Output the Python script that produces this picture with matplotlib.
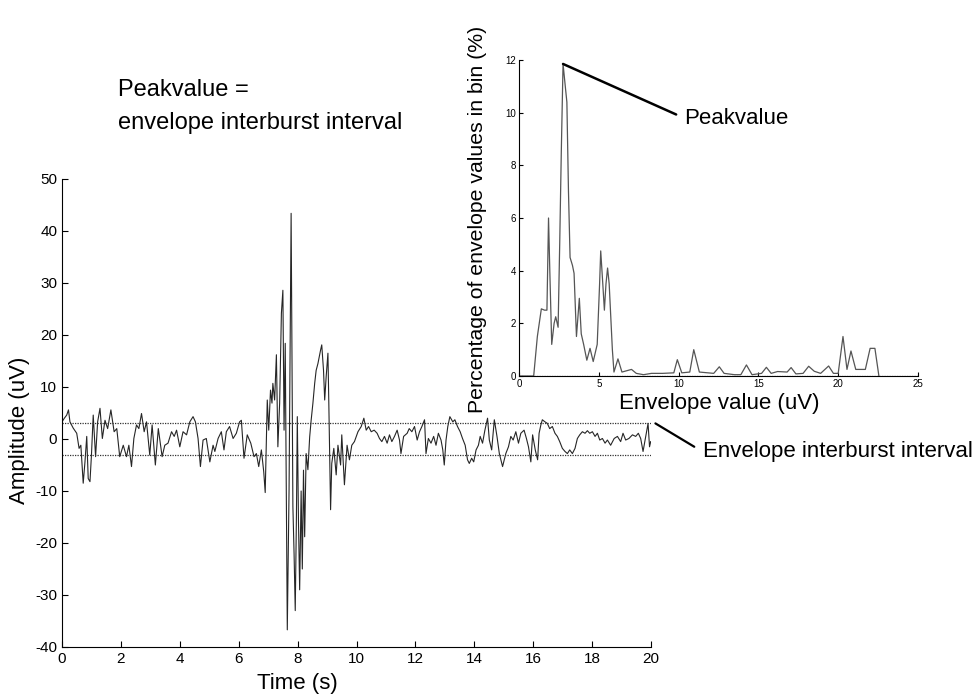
import matplotlib.pyplot as plt

plt.rcParams['font.family'] = ['Liberation Sans', 'DejaVu Sans']
plt.rcParams['axes.unicode_minus'] = False

# raw trace (s, uV)
time_s = [
    0.0, 0.08, 0.16, 0.22, 0.27, 0.38, 0.5, 0.58, 0.64, 0.72, 0.78, 0.84, 0.89, 0.95, 1.0,
    1.06, 1.14, 1.21, 1.29, 1.37, 1.46, 1.55, 1.66, 1.77, 1.86, 1.96, 2.08, 2.19, 2.27, 2.36,
    2.44, 2.53, 2.61, 2.7, 2.79, 2.87, 2.98, 3.06, 3.17, 3.27, 3.4, 3.49, 3.6, 3.72, 3.81,
    3.89, 4.0, 4.11, 4.23, 4.34, 4.45, 4.53, 4.62, 4.7, 4.79, 4.9, 5.02, 5.13,
    5.19, 5.3, 5.41, 5.5, 5.58, 5.69, 5.81, 5.92, 6.03, 6.09, 6.18, 6.29, 6.41, 6.52, 6.6,
    6.68, 6.77, 6.85, 6.9,
    6.97, 7.02, 7.08, 7.13, 7.16, 7.22, 7.28, 7.33, 7.39, 7.45, 7.5, 7.54, 7.58, 7.65, 7.71,
    7.78, 7.84, 7.88, 7.92, 7.96, 7.99, 8.03, 8.07, 8.12, 8.16, 8.2, 8.24, 8.29, 8.35, 8.41,
    8.46, 8.52, 8.58, 8.63, 8.69, 8.78, 8.82, 8.88, 8.92, 8.97, 9.03, 9.06, 9.12, 9.16,
    9.23, 9.31, 9.37, 9.46, 9.5, 9.59, 9.68, 9.76, 9.84, 9.93,
    10.05, 10.16, 10.25, 10.33, 10.41, 10.5, 10.6, 10.7, 10.78, 10.86, 10.95, 11.04, 11.12,
    11.2, 11.29, 11.38, 11.46, 11.51, 11.6, 11.72, 11.79, 11.88, 11.97, 12.06, 12.14, 12.22,
    12.31, 12.36, 12.44, 12.53, 12.62, 12.7, 12.78, 12.87, 12.93, 12.98, 13.04, 13.1, 13.17,
    13.27, 13.34, 13.43, 13.52, 13.6, 13.69, 13.77, 13.83, 13.91, 13.98, 14.06, 14.14, 14.2,
    14.28, 14.36, 14.45, 14.51, 14.59, 14.68, 14.77, 14.85, 14.96, 15.07, 15.16,
    15.24, 15.32, 15.41, 15.5, 15.58, 15.69, 15.77, 15.84, 15.92, 15.98, 16.07, 16.15, 16.2,
    16.26, 16.31, 16.4, 16.48, 16.56, 16.65, 16.74, 16.82, 16.9, 16.99, 17.08, 17.16, 17.24,
    17.33, 17.42, 17.5, 17.58, 17.67, 17.76, 17.84, 17.92, 18.01, 18.1, 18.18, 18.26, 18.35,
    18.44, 18.52, 18.63, 18.75, 18.86, 18.97, 19.05, 19.14, 19.25, 19.37, 19.48, 19.57, 19.65,
    19.73, 19.82, 19.9, 19.95, 19.99,
]
amplitude_uv = [
    3.3, 4.0, 4.6, 5.6, 3.3, 2.1, 1.1, -1.8, -1.2, -8.5, -4.4, 0.5, -7.6, -8.2, -3.1,
    4.6, -3.4, 3.3, 5.9, 0.1, 3.6, 2.0, 5.6, 1.4, 2.0, -3.4, -1.2, -3.4, -1.2, -5.3,
    0.1, 2.7, 2.0, 4.9, 1.4, 3.3, -3.1, 2.7, -5.0, 2.0, -3.4, -1.2, -0.8, 1.4, 0.5,
    1.7, -1.5, 1.4, 0.8, 3.3, 4.3, 3.3, 0.1, -5.3, -0.2, 0.1, -4.4, -1.2,
    -2.4, 0.1, 1.4, -2.1, 1.4, 2.4, 0.1, 1.1, 3.3, 3.6, -3.7, 0.8, -0.8, -3.4, -2.8,
    -5.3, -2.1, -6.3, -10.3,
    7.5, 1.7, 9.4, 6.9, 10.7, 7.5, 16.2, -1.5, 6.9, 24.2, 28.6, 1.7, 18.4, -36.7, -9.8,
    43.4, -13.0, -22.0, -33.0, -15.0, 4.3, -16.0, -29.0, -10.0, -25.0, -6.0, -18.8, -2.8, -5.9, 0.4,
    3.6, 6.9, 10.7, 13.2, 14.5, 17.1, 18.1, 13.2, 7.5, 12.0, 16.5, 6.9, -13.6, -4.7,
    -1.8, -6.9, -1.2, -5.0, 0.8, -8.8, -1.2, -4.0, -1.2, -0.5,
    1.4, 2.4, 4.0, 1.7, 2.4, 1.4, 1.7, 1.1, 0.1, -0.5, 0.5, -0.8, 0.8,
    -0.5, 0.5, 1.7, -0.2, -2.8, 0.5, 1.1, 2.0, 1.4, 2.4, -0.2, 1.4, 2.4,
    3.7, -2.8, 0.1, -0.8, 0.5, -1.2, 1.1, -0.2, -2.1, -5.0, -0.2, 2.4, 4.3,
    3.3, 3.7, 2.4, 1.4, 0.1, -1.2, -4.0, -4.7, -3.7, -4.4, -2.1, -1.2, 0.5,
    -0.8, 1.7, 4.0, -0.2, -2.1, 3.7, 0.5, -2.8, -5.3, -2.8, -1.5,
    0.5, -0.2, 1.4, -0.8, 1.1, 1.7, 0.1, -1.5, -4.4, 0.8, -2.1, -4.0, 1.1,
    2.7, 3.7, 3.3, 3.0, 2.0, 2.4, 1.1, 0.5, -0.5, -1.8, -2.4, -2.8, -2.1,
    -2.8, -1.8, 0.1, 0.8, 1.4, 1.1, 1.6, 1.1, 1.4, 0.5, 1.1, -0.2, 0.1,
    -0.8, -0.2, -1.2, 0.1, 0.5, -0.5, 1.1, -0.2, 0.1, 0.8, 0.5, 1.1, 0.1,
    -2.4, 0.5, 3.0, -1.5, -0.5,
]
threshold_uv = 3.0

# histogram of envelope values (inset)
env_value = [
    0.0, 0.92, 1.15, 1.4, 1.6, 1.75, 1.85, 1.93, 2.05, 2.2, 2.3, 2.45, 2.55, 2.65, 2.76,
    2.9, 3.0, 3.1, 3.2, 3.35, 3.45, 3.6, 3.78, 3.9, 4.05, 4.25, 4.45, 4.65, 4.9, 5.05,
    5.12, 5.25, 5.35, 5.45, 5.55, 5.65, 5.85, 5.95, 6.2, 6.45, 6.75, 7.05, 7.35, 7.8, 8.3,
    9.0, 9.7, 9.92, 10.2, 10.7, 10.95, 11.3, 12.2, 12.55, 12.85, 13.5, 13.9, 14.25, 14.6,
    15.2, 15.5, 15.8, 16.2, 16.8, 17.05, 17.35, 17.8, 18.15, 18.5, 18.9, 19.4, 19.7, 20.0,
    20.3, 20.55, 20.8, 21.1, 21.7, 22.0, 22.3, 22.55,
]
env_pct = [
    0.0, 0.0, 1.5, 2.55, 2.5, 2.5, 6.0, 4.0, 1.2, 2.0, 2.25, 1.85, 5.0, 8.5, 11.85,
    11.0, 10.4, 7.0, 4.5, 4.2, 3.9, 1.5, 2.95, 1.6, 1.2, 0.6, 1.05, 0.55, 1.2, 3.5,
    4.75, 3.5, 2.5, 3.5, 4.1, 3.5, 1.0, 0.15, 0.65, 0.15, 0.2, 0.25, 0.1, 0.05, 0.1,
    0.1, 0.12, 0.62, 0.12, 0.15, 1.0, 0.15, 0.1, 0.35, 0.1, 0.05, 0.05, 0.42, 0.05,
    0.1, 0.33, 0.1, 0.17, 0.15, 0.32, 0.08, 0.1, 0.37, 0.18, 0.1, 0.38, 0.1, 0.1,
    1.5, 0.25, 0.95, 0.25, 0.25, 1.05, 1.05, 0.0,
]

fig = plt.figure(figsize=(9.8, 7), dpi=100)

# main trace
ax = fig.add_axes([62 / 980, 1 - 647 / 700, 589 / 980, 468 / 700])
ax.plot(time_s, amplitude_uv, color='#262626', lw=0.8)
ax.axhline(threshold_uv, color='#333333', lw=0.9, ls=(0, (1, 1)))
ax.axhline(-threshold_uv, color='#333333', lw=0.9, ls=(0, (1, 1)))
ax.set_xlim(0, 20)
ax.set_ylim(-40, 50)
ax.set_xticks(range(0, 21, 2))
ax.set_yticks(range(-40, 51, 10))
ax.spines['top'].set_visible(False)
ax.spines['right'].set_visible(False)
ax.tick_params(direction='in', length=4, labelsize=11)
ax.set_xlabel('Time (s)', fontsize=16)
ax.xaxis.set_label_coords(0.4, -0.055)
fig.text(20 / 980, 1 - 430 / 700, 'Amplitude (uV)', rotation=90,
         ha='center', va='center', fontsize=16)

ax.annotate('Envelope interburst interval', xy=(20.15, threshold_uv), xycoords='data',
            xytext=(703, 700 - 452), textcoords='figure pixels',
            ha='left', va='center', fontsize=16, annotation_clip=False,
            arrowprops=dict(arrowstyle='-', color='black', lw=1.6,
                            relpos=(0, 0.5), shrinkA=5, shrinkB=0))

fig.text(118 / 980, 1 - 90 / 700, 'Peakvalue =', fontsize=17, va='center')
fig.text(118 / 980, 1 - 123 / 700, 'envelope interburst interval', fontsize=17, va='center')

# inset histogram
axi = fig.add_axes([519 / 980, 1 - 376 / 700, 399 / 980, 316 / 700])
axi.patch.set_alpha(0)
axi.plot(env_value, env_pct, color='#555555', lw=0.9)
axi.axhline(0, color='#555555', lw=0.9, ls=(0, (1, 1)))
axi.set_xlim(0, 25)
axi.set_ylim(0, 12)
axi.set_xticks(range(0, 26, 5))
axi.set_yticks(range(0, 13, 2))
axi.spines['top'].set_visible(False)
axi.spines['right'].set_visible(False)
axi.tick_params(direction='in', length=3, labelsize=7, pad=2)
fig.text(477 / 980, 1 - 219 / 700, 'Percentage of envelope values in bin (%)',
         rotation=90, ha='center', va='center', fontsize=15.3)
fig.text(719 / 980, 1 - 404 / 700, 'Envelope value (uV)', ha='center', va='center', fontsize=16)

i_peak = env_pct.index(max(env_pct))
axi.annotate('Peakvalue', xy=(env_value[i_peak], env_pct[i_peak]), xycoords='data',
             xytext=(684, 700 - 118), textcoords='figure pixels',
             ha='left', va='center', fontsize=16,
             arrowprops=dict(arrowstyle='-', color='black', lw=1.8,
                             relpos=(0, 0.5), shrinkA=4, shrinkB=0))

fig.savefig('out.png', dpi=100)
